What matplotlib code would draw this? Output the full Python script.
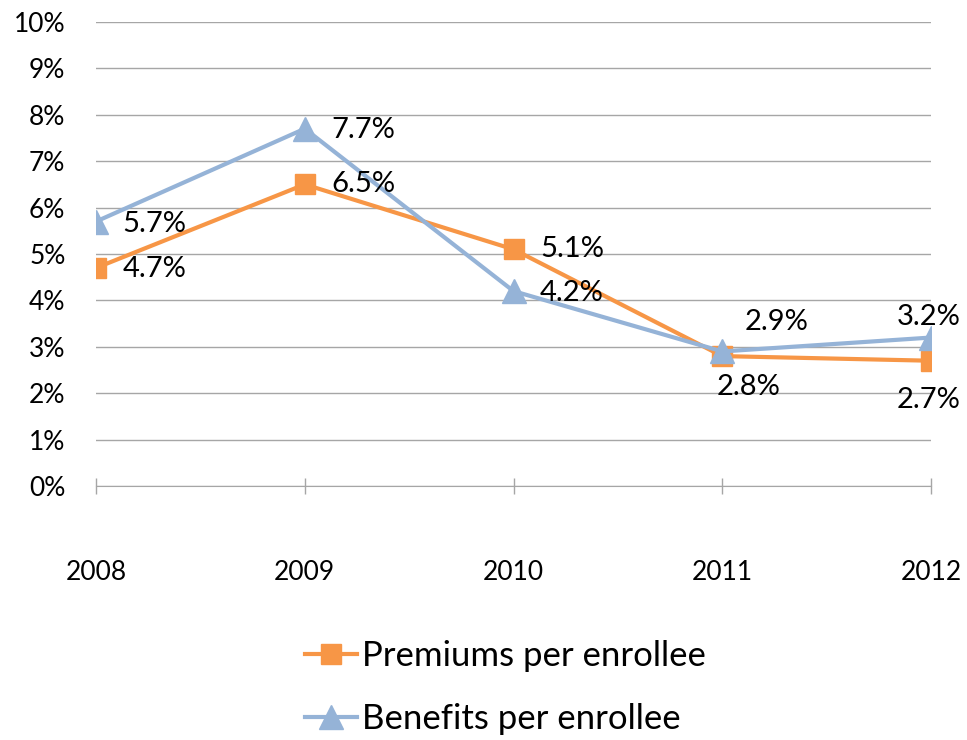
import matplotlib
matplotlib.use("Agg")
import matplotlib.pyplot as plt
from matplotlib.ticker import FuncFormatter

plt.rcParams["font.family"] = ["Lato", "DejaVu Sans"]

years = ["2008", "2009", "2010", "2011", "2012"]
premiums = [4.7, 6.5, 5.1, 2.8, 2.7]
benefits = [5.7, 7.7, 4.2, 2.9, 3.2]

ORANGE = "#F79646"
BLUE = "#95B3D7"
GRID = "#A6A6A6"

fig = plt.figure(figsize=(9.67, 7.4), dpi=100)
ax = fig.add_axes([0.0993, 0.3432, 0.8635, 0.6271])

x = list(range(len(years)))
ax.plot(x, benefits, color=BLUE, lw=3, marker="^", ms=17, mec=BLUE, mfc=BLUE,
        label="Benefits per enrollee", zorder=3)
ax.plot(x, premiums, color=ORANGE, lw=3, marker="s", ms=15, mec=ORANGE, mfc=ORANGE,
        label="Premiums per enrollee", zorder=2)

# data labels: offsets in points (dx, dy, ha)
prem_off = [(19, -1, "left"), (19, 0, "left"), (19, 0, "left"), (19, -22, "center"), (-2, -28, "center")]
ben_off = [(19, -2, "left"), (19, -1, "left"), (19, -1, "left"), (39, 21, "center"), (-2, 15, "center")]
for xi, v, (dx, dy, ha) in zip(x, premiums, prem_off):
    ax.annotate(f"{v:.1f}%", (xi, v), xytext=(dx, dy), textcoords="offset points",
                ha=ha, va="center", fontsize=21, color="black", zorder=5)
for xi, v, (dx, dy, ha) in zip(x, benefits, ben_off):
    ax.annotate(f"{v:.1f}%", (xi, v), xytext=(dx, dy), textcoords="offset points",
                ha=ha, va="center", fontsize=21, color="black", zorder=5)

ax.set_xlim(0, 4)
ax.set_ylim(0, 10)
ax.set_yticks(range(0, 11))
ax.yaxis.set_major_formatter(FuncFormatter(lambda v, p: f"{v:.0f}%"))
ax.set_xticks(x)
ax.set_xticklabels(years)
ax.grid(axis="y", color=GRID, lw=1)
ax.set_axisbelow(True)
for s in ("left", "right", "top"):
    ax.spines[s].set_visible(False)
ax.spines["bottom"].set_color(GRID)
ax.tick_params(axis="y", length=0, pad=22, labelsize=19)
ax.tick_params(axis="x", direction="inout", length=12, width=1, color=GRID,
               pad=47, labelsize=19)

handles, labels = ax.get_legend_handles_labels()
fig.legend(handles[::-1], labels[::-1], loc="upper left", bbox_to_anchor=(0.315, 0.135),
           frameon=False, fontsize=25, handlelength=1.5, handletextpad=0.15,
           labelspacing=0.9, borderaxespad=0, borderpad=0)

fig.savefig("out.png", dpi=100)
